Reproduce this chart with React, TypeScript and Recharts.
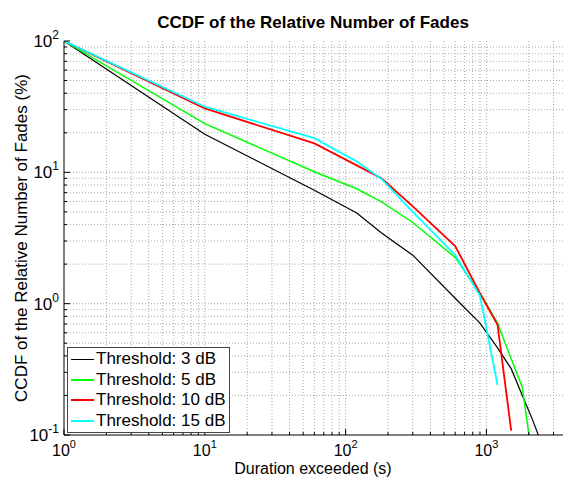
import { CartesianGrid, Legend, Line, LineChart, XAxis, YAxis } from "recharts";

// durations (s) at which the CCDF curves were sampled
const durations = [1, 10, 60, 120, 180, 300, 600, 900, 1200, 1500, 1800, 2100, 2400];

// CCDF values (%) for each fade threshold
const fades3dB = [100, 19.5, 7.3, 4.9, 3.45, 2.34, 1.1, 0.71, 0.46, 0.32, 0.2, 0.135, 0.093];
const fades5dB = [100, 23.5, 10.1, 7.5, 5.95, 4.15, 2.25, 1.2, 0.71, 0.38, 0.23, 0.07];
const fades10dB = [100, 30.7, 16.6, 11.3, 9.0, 5.5, 2.75, 1.2, 0.69, 0.108];
const fades15dB = [100, 31.6, 18.2, 12.1, 8.9, 5.0, 2.35, 1.15, 0.24];

const seriesNames = ["Threshold: 3 dB", "Threshold: 5 dB", "Threshold: 10 dB", "Threshold: 15 dB"];
const seriesValues = [fades3dB, fades5dB, fades10dB, fades15dB];
const seriesColors = ["#000000", "#00ff00", "#ff0000", "#00ffff"];
const seriesWidths = [1.2, 1.5, 1.8, 1.8];

const xDecades = [1, 10, 100, 1000];
const yDecades = [0.1, 1, 10];
const xMax = 3500;

const logTicks = (decades: number[], min: number, max: number) => {
  const out: number[] = [];
  decades.forEach((d) => {
    for (let m = 1; m <= 9; m++) {
      const v = +(m * d).toPrecision(6);
      if (v >= min && v <= max) out.push(v);
    }
  });
  return out;
};

const xTicks = logTicks(xDecades, 1, xMax);
const yTicks = [...logTicks(yDecades, 0.1, 100), 100];

const decadeExp = (v: number) => {
  const e = Math.log10(v);
  return Math.abs(e - Math.round(e)) < 1e-6 ? Math.round(e) : null;
};

const font = '"Liberation Sans", Arial, Helvetica, sans-serif';

const BottomTick = (props: any) => {
  const { x, y, payload } = props;
  const exp = decadeExp(payload.value);
  return (
    <g>
      <line x1={x} y1={y} x2={x} y2={y - (exp === null ? 3 : 6)} stroke="#000" />
      {exp !== null && (
        <text x={x} y={y + 21} textAnchor="middle" fontSize={16} fontFamily={font} fill="#000">
          10<tspan dy={-8} fontSize={11}>{exp}</tspan>
        </text>
      )}
    </g>
  );
};

const TopTick = (props: any) => {
  const { x, y, payload } = props;
  const exp = decadeExp(payload.value);
  return <line x1={x} y1={y} x2={x} y2={y + (exp === null ? 3 : 6)} stroke="#000" />;
};

const LeftTick = (props: any) => {
  const { x, y, payload } = props;
  const exp = decadeExp(payload.value);
  return (
    <g>
      <line x1={x} y1={y} x2={x + (exp === null ? 3 : 6)} y2={y} stroke="#000" />
      {exp !== null && (
        <text x={x - 5} y={y + 6} textAnchor="end" fontSize={17} fontFamily={font} fill="#000">
          10<tspan dy={-8} fontSize={12}>{exp}</tspan>
        </text>
      )}
    </g>
  );
};

const renderLegend = () => (
  <div
    style={{
      width: 163,
      height: 86,
      boxSizing: "border-box",
      border: "1px solid #444",
      background: "#fff",
      paddingTop: 1,
      fontFamily: font,
      fontSize: 17,
      color: "#000",
    }}
  >
    {seriesNames.map((name, i) => (
      <div key={name} style={{ display: "flex", alignItems: "center", height: 20.6 }}>
        <span
          style={{
            display: "inline-block",
            width: 23,
            marginLeft: 3,
            borderTop: `${Math.max(1, Math.round(seriesWidths[i]))}px solid ${seriesColors[i]}`,
          }}
        />
        <span style={{ marginLeft: 2, whiteSpace: "nowrap" }}>{name}</span>
      </div>
    ))}
  </div>
);

export default function App() {
  return (
    <div
      style={{
        position: "absolute",
        left: 0,
        top: 0,
        width: 563,
        height: 477,
        overflow: "hidden",
        background: "#fff",
      }}
    >
      <LineChart width={563} height={477} margin={{ top: 41, right: 0, bottom: 0, left: 0 }}>
        <CartesianGrid
          verticalValues={xTicks.filter((v) => v > 1)}
          horizontalValues={yTicks.filter((v) => v > 0.1 && v < 100)}
          stroke="#a8a8a8"
          strokeDasharray="1 2"
        />
        <XAxis
          dataKey="duration"
          type="number"
          scale="log"
          domain={[1, xMax]}
          allowDataOverflow
          ticks={xTicks}
          interval={0}
          tickSize={0}
          tickMargin={0}
          tick={(p: any) => <BottomTick {...p} />}
          height={42}
          stroke="#000"
        />
        <XAxis
          xAxisId="top"
          orientation="top"
          dataKey="duration"
          type="number"
          scale="log"
          domain={[1, xMax]}
          allowDataOverflow
          ticks={xTicks}
          interval={0}
          tickSize={0}
          tickMargin={0}
          tick={(p: any) => <TopTick {...p} />}
          height={0}
          stroke="#000"
        />
        <YAxis
          type="number"
          scale="log"
          domain={[0.1, 100]}
          allowDataOverflow
          ticks={yTicks}
          interval={0}
          tickSize={0}
          tickMargin={0}
          tick={(p: any) => <LeftTick {...p} />}
          width={64}
          stroke="#000"
        />
        <Legend
          layout="horizontal"
          align="center"
          verticalAlign="middle"
          content={renderLegend}
          wrapperStyle={{ left: 67, top: 347, width: 163, height: 86 }}
        />
        {seriesValues.map((values, i) => (
          <Line
            key={seriesNames[i]}
            name={seriesNames[i]}
            data={values.map((v, j) => ({ duration: durations[j], ccdf: v }))}
            dataKey="ccdf"
            type="linear"
            stroke={seriesColors[i]}
            strokeWidth={seriesWidths[i]}
            dot={false}
            isAnimationActive={false}
          />
        ))}
      </LineChart>
      <svg
        width={563}
        height={477}
        style={{ position: "absolute", left: 0, top: 0, pointerEvents: "none" }}
        fontFamily={font}
      >
        <text x={313} y={28} textAnchor="middle" fontSize={17} fontWeight="bold" fill="#000">
          CCDF of the Relative Number of Fades
        </text>
        <text x={313} y={474} textAnchor="middle" fontSize={16} fill="#000">
          Duration exceeded (s)
        </text>
        <text transform="translate(27,238) rotate(-90)" textAnchor="middle" fontSize={17} fill="#000">
          CCDF of the Relative Number of Fades (%)
        </text>
      </svg>
    </div>
  );
}
